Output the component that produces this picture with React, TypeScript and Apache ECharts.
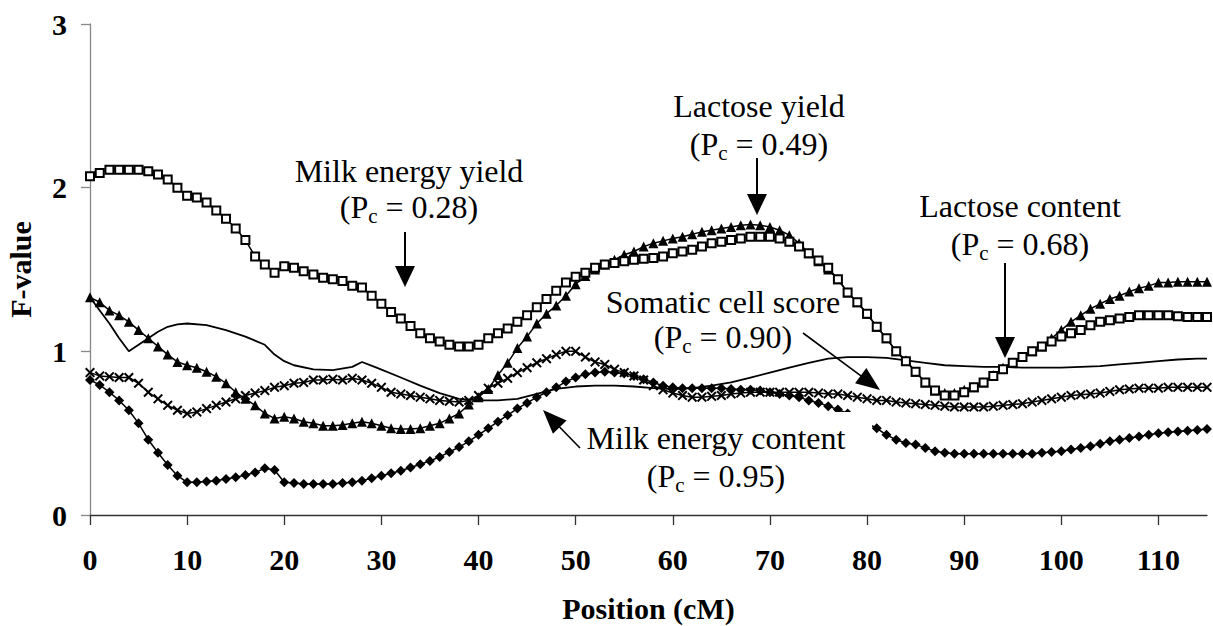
import React, { useEffect, useRef } from "react";
import * as echarts from "echarts";

// Positions (cM) at which the marked series are evaluated
const positions = [
  0, 1, 2, 3, 4, 5, 6, 7, 8, 9, 10, 11, 12, 13, 14, 15, 16, 17, 18, 19,
  20, 21, 22, 23, 24, 25, 26, 27, 28, 29, 30, 31, 32, 33, 34, 35, 36, 37, 38, 39,
  40, 41, 42, 43, 44, 45, 46, 47, 48, 49, 50, 51, 52, 53, 54, 55, 56, 57, 58, 59,
  60, 61, 62, 63, 64, 65, 66, 67, 68, 69, 70, 71, 72, 73, 74, 75, 76, 77, 78, 79,
  80, 81, 82, 83, 84, 85, 86, 87, 88, 89, 90, 91, 92, 93, 94, 95, 96, 97, 98, 99,
  100, 101, 102, 103, 104, 105, 106, 107, 108, 109, 110, 111, 112, 113, 114, 115,
];

// Milk energy yield (open squares)
const milkEnergyYield = [
  2.07, 2.09, 2.11, 2.11, 2.11, 2.11, 2.1, 2.08, 2.05, 2.0,
  1.95, 1.94, 1.91, 1.86, 1.81, 1.75, 1.68, 1.58, 1.53, 1.48,
  1.52, 1.51, 1.49, 1.47, 1.45, 1.44, 1.43, 1.4, 1.39, 1.34,
  1.29, 1.24, 1.2, 1.155, 1.11, 1.08, 1.06, 1.04, 1.03, 1.03,
  1.04, 1.08, 1.11, 1.14, 1.18, 1.22, 1.27, 1.32, 1.37, 1.42,
  1.455, 1.48, 1.51, 1.53, 1.54, 1.55, 1.56, 1.565, 1.57, 1.58,
  1.6, 1.61, 1.62, 1.64, 1.66, 1.67, 1.68, 1.69, 1.7, 1.7,
  1.7, 1.69, 1.67, 1.64, 1.6, 1.555, 1.51, 1.44, 1.36, 1.3,
  1.23, 1.15, 1.08, 1.0, 0.94, 0.875, 0.81, 0.76, 0.73, 0.73,
  0.75, 0.78, 0.81, 0.85, 0.89, 0.93, 0.965, 1.0, 1.03, 1.06,
  1.09, 1.11, 1.13, 1.16, 1.18, 1.19, 1.2, 1.21, 1.22, 1.22,
  1.22, 1.22, 1.215, 1.21, 1.21, 1.21,
];

// Lactose yield (filled triangles)
const lactoseYield = [
  1.33, 1.3, 1.25, 1.22, 1.18, 1.13, 1.08, 1.03, 0.98, 0.935,
  0.915, 0.9, 0.875, 0.845, 0.805, 0.75, 0.71, 0.67, 0.62, 0.59,
  0.6, 0.59, 0.57, 0.56, 0.545, 0.545, 0.55, 0.56, 0.57, 0.56,
  0.545, 0.53, 0.525, 0.525, 0.53, 0.545, 0.56, 0.59, 0.62, 0.675,
  0.72, 0.77, 0.855, 0.93, 1.02, 1.09, 1.17, 1.23, 1.28, 1.34,
  1.41, 1.46, 1.5, 1.53, 1.56, 1.59, 1.61, 1.64, 1.66, 1.675,
  1.69, 1.7, 1.715, 1.73, 1.74, 1.75, 1.76, 1.77, 1.775, 1.77,
  1.76, 1.74, 1.71, 1.66, 1.6, 1.55, 1.5, 1.44, 1.36, 1.3,
  1.23, 1.15, 1.08, 1.0, 0.945, 0.875, 0.81, 0.76, 0.745, 0.745,
  0.765, 0.78, 0.81, 0.855, 0.9, 0.93, 0.965, 1.0, 1.03, 1.08,
  1.13, 1.18, 1.22, 1.26, 1.29, 1.32, 1.34, 1.365, 1.385, 1.4,
  1.42, 1.42, 1.425, 1.425, 1.425, 1.425,
];

// Somatic cell score (crosses)
const somaticCellScore = [
  0.87, 0.85, 0.845, 0.84, 0.84, 0.805, 0.75, 0.71, 0.67, 0.64,
  0.62, 0.63, 0.65, 0.67, 0.69, 0.71, 0.73, 0.745, 0.76, 0.78,
  0.79, 0.805, 0.81, 0.825, 0.825, 0.83, 0.825, 0.835, 0.825, 0.805,
  0.78, 0.75, 0.74, 0.73, 0.72, 0.71, 0.7, 0.695, 0.69, 0.7,
  0.73, 0.775, 0.805, 0.835, 0.87, 0.9, 0.93, 0.955, 0.98, 1.0,
  1.0, 0.965, 0.935, 0.92, 0.89, 0.87, 0.85, 0.825, 0.79, 0.765,
  0.745, 0.73, 0.72, 0.72, 0.725, 0.73, 0.74, 0.745, 0.75, 0.75,
  0.75, 0.75, 0.75, 0.75, 0.75, 0.745, 0.74, 0.74, 0.73, 0.72,
  0.71, 0.7, 0.7, 0.69, 0.685, 0.68, 0.675, 0.67, 0.665, 0.66,
  0.66, 0.66, 0.66, 0.665, 0.67, 0.675, 0.68, 0.69, 0.7, 0.71,
  0.72, 0.73, 0.735, 0.74, 0.745, 0.755, 0.765, 0.77, 0.775, 0.775,
  0.775, 0.78, 0.78, 0.78, 0.78, 0.78,
];

// Milk energy content (filled diamonds)
const milkEnergyContent = [
  0.825, 0.795, 0.75, 0.7, 0.64, 0.56, 0.46, 0.38, 0.305, 0.24,
  0.2, 0.2, 0.205, 0.21, 0.22, 0.23, 0.245, 0.26, 0.285, 0.275,
  0.2, 0.195, 0.19, 0.19, 0.19, 0.19, 0.195, 0.2, 0.21, 0.225,
  0.24, 0.255, 0.27, 0.29, 0.31, 0.33, 0.355, 0.385, 0.415, 0.45,
  0.49, 0.53, 0.57, 0.61, 0.65, 0.685, 0.72, 0.75, 0.78, 0.815,
  0.84, 0.86, 0.87, 0.875, 0.87, 0.865, 0.85, 0.83, 0.81, 0.79,
  0.78, 0.775, 0.775, 0.775, 0.775, 0.775, 0.77, 0.765, 0.765, 0.76,
  0.75, 0.74, 0.73, 0.72, 0.7, 0.685, 0.665, 0.645, 0.62, 0.59,
  0.56, 0.53, 0.49, 0.46, 0.44, 0.43, 0.41, 0.39, 0.38, 0.375,
  0.375, 0.375, 0.375, 0.375, 0.375, 0.375, 0.375, 0.375, 0.38, 0.385,
  0.39, 0.4, 0.41, 0.42, 0.435, 0.45, 0.46, 0.47, 0.48, 0.49,
  0.5, 0.505, 0.51, 0.515, 0.52, 0.525,
];

// Lactose content (plain line, no markers)
const lactoseContentPos = [
  0, 1, 2, 3, 4, 5, 6, 7, 8, 9, 10, 12, 14, 16, 18, 19, 20, 21, 23, 25, 27, 28, 29.5,
  32, 34, 36, 38, 40, 42, 44, 46, 48, 50, 52, 54, 56, 58, 60, 62, 64, 66, 68, 70,
  72, 74, 76, 78, 80, 82, 84, 86, 88, 90, 92, 94, 96, 98, 100, 102, 104, 106, 108,
  110, 112, 114, 115,
];
const lactoseContent = [
  1.33, 1.25, 1.17, 1.08, 1.0, 1.04, 1.08, 1.12, 1.15, 1.165, 1.17, 1.16, 1.13, 1.09,
  1.04, 0.98, 0.94, 0.915, 0.89, 0.885, 0.905, 0.935, 0.9,
  0.84, 0.79, 0.745, 0.71, 0.7, 0.7, 0.71, 0.74, 0.77, 0.785, 0.79, 0.79, 0.785, 0.775,
  0.77, 0.775, 0.79, 0.81, 0.84, 0.87, 0.9, 0.93, 0.955, 0.965, 0.965, 0.96, 0.945,
  0.93, 0.915, 0.91, 0.905, 0.905, 0.9, 0.9, 0.9, 0.905, 0.91, 0.92, 0.93, 0.94, 0.95,
  0.955, 0.955,
];

const xTicks = [0, 10, 20, 30, 40, 50, 60, 70, 80, 90, 100, 110];

const labelTitles = ["Milk energy yield", "Lactose yield", "Lactose content", "Somatic cell score", "Milk energy content"];
const labelPc = ["0.28", "0.49", "0.68", "0.90", "0.95"];

const FONT = "'Liberation Serif', 'Times New Roman', serif";

export default function App() {
  const ref = useRef<HTMLDivElement>(null);

  useEffect(() => {
    if (!ref.current) return;
    const chart = echarts.init(ref.current, null, { renderer: "svg" });

    const pair = (xs: number[], ys: number[]) => xs.map((x, i) => [x, ys[i]]);
    const crossPath =
      "path://M0,1.4L1.4,0L5,3.6L8.6,0L10,1.4L6.4,5L10,8.6L8.6,10L5,6.4L1.4,10L0,8.6L3.6,5Z";

    // annotation layout (pixels)
    const textLayout = [
      { x: 409, y1: 171, y2: 207 },
      { x: 759, y1: 106, y2: 144 },
      { x: 1020, y1: 206, y2: 244 },
      { x: 723, y1: 302, y2: 337 },
      { x: 716, y1: 438, y2: 476 },
    ];
    const arrows = [
      { x1: 405, y1: 232, x2: 405, y2: 287, hl: 21, hw: 20, w: 2 },
      { x1: 757, y1: 158, x2: 757, y2: 215, hl: 21, hw: 20, w: 2 },
      { x1: 1005, y1: 263, x2: 1005, y2: 358, hl: 21, hw: 20, w: 2 },
      { x1: 803, y1: 333, x2: 880, y2: 390, hl: 24, hw: 19, w: 1.6 },
      { x1: 580, y1: 448, x2: 543, y2: 410, hl: 24, hw: 19, w: 1.6 },
    ];

    const graphics: any[] = [];
    // white label box that masks part of the diamond series
    graphics.push({
      type: "rect",
      z: 100,
      shape: { x: 575, y: 412, width: 297, height: 85 },
      style: { fill: "#ffffff" },
    });
    arrows.forEach((a) => {
      const dx = a.x2 - a.x1;
      const dy = a.y2 - a.y1;
      const len = Math.sqrt(dx * dx + dy * dy);
      const ux = dx / len;
      const uy = dy / len;
      const bx = a.x2 - ux * a.hl;
      const by = a.y2 - uy * a.hl;
      const nx = -uy;
      const ny = ux;
      graphics.push({
        type: "line",
        z: 101,
        shape: { x1: a.x1, y1: a.y1, x2: bx + ux * 2, y2: by + uy * 2 },
        style: { stroke: "#000", lineWidth: a.w },
      });
      graphics.push({
        type: "polygon",
        z: 101,
        shape: {
          points: [
            [a.x2, a.y2],
            [bx + (nx * a.hw) / 2, by + (ny * a.hw) / 2],
            [bx - (nx * a.hw) / 2, by - (ny * a.hw) / 2],
          ],
        },
        style: { fill: "#000" },
      });
    });
    textLayout.forEach((t, i) => {
      graphics.push({
        type: "text",
        z: 102,
        x: t.x,
        y: t.y1,
        style: {
          text: labelTitles[i],
          fill: "#000",
          fontFamily: FONT,
          fontSize: 32,
          align: "center",
          verticalAlign: "middle",
        },
      });
      graphics.push({
        type: "text",
        z: 102,
        x: t.x,
        y: t.y2,
        style: {
          text: `{n|(P}{s|c}{n| = ${labelPc[i]})}`,
          fill: "#000",
          fontFamily: FONT,
          fontSize: 32,
          align: "center",
          verticalAlign: "middle",
          rich: {
            n: { fontFamily: FONT, fontSize: 32, lineHeight: 32, fill: "#000" },
            s: {
              fontFamily: FONT,
              fontSize: 21,
              lineHeight: 15,
              height: 15,
              verticalAlign: "bottom",
              fill: "#000",
            },
          },
        },
      });
    });

    const baseLine = { color: "#000", width: 1.5 };

    chart.setOption({
      animation: false,
      backgroundColor: "#ffffff",
      grid: { left: 90, right: 6, top: 24, bottom: 111, containLabel: false, outerBoundsMode: "none" } as any,
      xAxis: {
        type: "value",
        min: 0,
        max: 115,
        interval: 10,
        name: "Position (cM)",
        nameLocation: "middle",
        nameGap: 78,
        nameTextStyle: { fontFamily: FONT, fontSize: 30, fontWeight: "bold", color: "#000" },
        axisLine: { show: true, onZero: false, lineStyle: { color: "#333", width: 1.3 } },
        axisTick: { show: true, inside: false, length: 10, customValues: xTicks, lineStyle: { color: "#333", width: 1.3 } },
        axisLabel: {
          customValues: xTicks,
          margin: 29,
          fontFamily: FONT,
          fontSize: 30,
          fontWeight: "bold",
          color: "#000",
        },
        splitLine: { show: false },
      },
      yAxis: {
        type: "value",
        min: 0,
        max: 3,
        interval: 1,
        name: "F-value",
        nameLocation: "middle",
        nameGap: 55,
        nameRotate: 90,
        nameTextStyle: { fontFamily: FONT, fontSize: 30, fontWeight: "bold", color: "#000" },
        axisLine: { show: true, onZero: false, lineStyle: { color: "#888", width: 1.3 } },
        axisTick: { show: true, inside: false, length: 9, lineStyle: { color: "#888", width: 1.3 } },
        axisLabel: { margin: 23, fontFamily: FONT, fontSize: 30, fontWeight: "bold", color: "#000" },
        splitLine: { show: false },
      },
      series: [
        {
          name: "Lactose content",
          type: "line",
          silent: true,
          showSymbol: false,
          symbol: "none",
          data: pair(lactoseContentPos, lactoseContent),
          lineStyle: { color: "#000", width: 1.8 },
          z: 2,
        },
        {
          name: "Milk energy content",
          type: "line",
          silent: true,
          symbol: "diamond",
          symbolSize: 10,
          data: pair(positions, milkEnergyContent),
          itemStyle: { color: "#000" },
          lineStyle: baseLine,
          z: 3,
        },
        {
          name: "Somatic cell score",
          type: "line",
          silent: true,
          symbol: crossPath,
          symbolSize: 10,
          data: pair(positions, somaticCellScore),
          itemStyle: { color: "#000" },
          lineStyle: baseLine,
          z: 4,
        },
        {
          name: "Lactose yield",
          type: "line",
          silent: true,
          symbol: "triangle",
          symbolSize: 10,
          data: pair(positions, lactoseYield),
          itemStyle: { color: "#000" },
          lineStyle: baseLine,
          z: 5,
        },
        {
          name: "Milk energy yield",
          type: "line",
          silent: true,
          symbol: "rect",
          symbolSize: 8,
          data: pair(positions, milkEnergyYield),
          itemStyle: { color: "#fff", borderColor: "#000", borderWidth: 2 },
          lineStyle: baseLine,
          z: 6,
        },
      ],
      graphic: graphics,
    });

    return () => chart.dispose();
  }, []);

  return (
    <div
      ref={ref}
      style={{ position: "absolute", left: 0, top: 0, width: 1213, height: 626, background: "#fff" }}
    />
  );
}
